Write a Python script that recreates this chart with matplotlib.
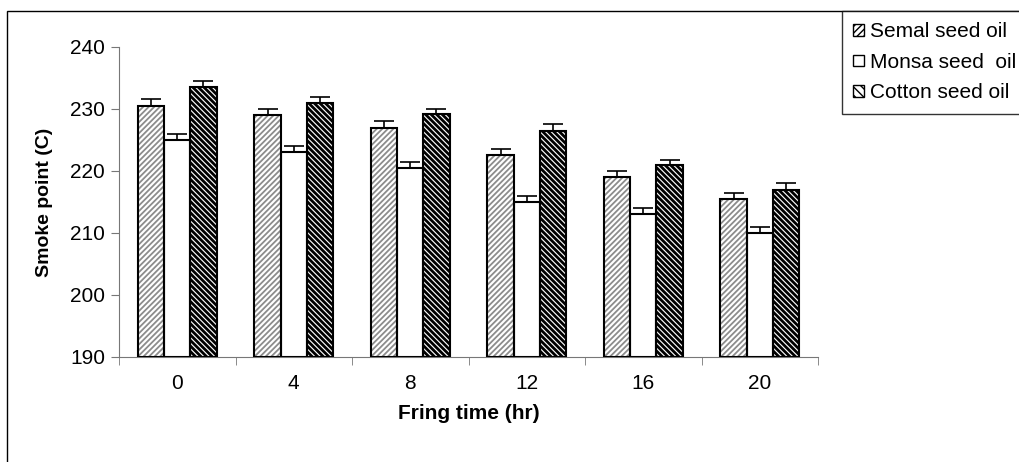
import matplotlib.pyplot as plt
import numpy as np
from matplotlib.patches import Rectangle, Patch

plt.rcParams['font.family'] = ['Liberation Sans', 'DejaVu Sans']

# data
times = ['0', '4', '8', '12', '16', '20']
semal = [230.5, 229.0, 227.0, 222.5, 219.0, 215.5]
monsa = [225.0, 223.0, 220.5, 215.0, 213.0, 210.0]
cotton = [233.5, 231.0, 229.2, 226.5, 221.0, 217.0]
semal_err = [1.1, 1.0, 1.1, 1.0, 1.0, 1.0]
monsa_err = [1.0, 1.0, 1.0, 1.0, 1.0, 1.0]
cotton_err = [1.0, 0.9, 0.8, 1.1, 0.8, 1.0]

fig = plt.figure(figsize=(10.19, 4.62), dpi=100)
ax = fig.add_axes([0.1168, 0.2273, 0.686, 0.671])

x = np.arange(len(times))
w = 0.225
offs = [-w, 0, w]
series = [semal, monsa, cotton]
errs = [semal_err, monsa_err, cotton_err]
hatches = ['//////', None, '\\\\\\\\\\\\']
hcolors = ['#8c8c8c', 'black', '#000000']
hlws = [1.3, 1.0, 2.0]

for vals, e, off, h, hc, hl in zip(series, errs, offs, hatches, hcolors, hlws):
    heights = np.array(vals) - 190
    plt.rcParams['hatch.linewidth'] = hl
    if h:
        ax.bar(x + off, heights, w, bottom=190, color='white', edgecolor=hc,
               hatch=h, linewidth=0, zorder=2)
    else:
        ax.bar(x + off, heights, w, bottom=190, color='white', linewidth=0, zorder=2)
    ax.bar(x + off, heights, w, bottom=190, fill=False, edgecolor='black',
           linewidth=1.5, zorder=3)
    ax.errorbar(x + off, vals, yerr=[np.zeros(len(e)), e], fmt='none',
                ecolor='black', elinewidth=1.2, capsize=7, capthick=1.2, zorder=4)

ax.set_xlim(-0.5, len(times) - 0.5)
ax.set_ylim(190, 240)
ax.set_yticks([190, 200, 210, 220, 230, 240])
ax.set_xticks(x)
ax.set_xticklabels(times)
ax.set_xticks(np.arange(-0.5, len(times), 1), minor=True)
ax.tick_params(axis='x', which='major', length=0, pad=12, labelsize=15)
ax.tick_params(axis='x', which='minor', length=6, direction='out', color='#777777')
ax.tick_params(axis='y', length=6, direction='out', color='#777777', labelsize=15, pad=4)
for s in ['top', 'right']:
    ax.spines[s].set_visible(False)
ax.spines['left'].set_color('#777777')
ax.spines['bottom'].set_color('#777777')

ax.set_ylabel('Smoke point (C)', fontsize=14, fontweight='bold', labelpad=12)
ax.set_xlabel('Fring time (hr)', fontsize=15, fontweight='bold', labelpad=8)

# outer chart frame
fig.patches.append(Rectangle((7 / 1019, -0.1), 1.2, 1 - 11 / 462 + 0.1,
                             transform=fig.transFigure, fill=False,
                             edgecolor='black', linewidth=1))

plt.rcParams['hatch.linewidth'] = 1.0
handles = [Patch(facecolor='white', edgecolor='black', hatch='/////'),
           Patch(facecolor='white', edgecolor='black'),
           Patch(facecolor='white', edgecolor='black', hatch='\\\\\\\\')]
leg = fig.legend(handles, ['Semal seed oil', 'Monsa seed  oil', 'Cotton seed oil'],
                 loc='upper left', bbox_to_anchor=(842 / 1019, 1 - 11 / 462),
                 frameon=True, fancybox=False, fontsize=15, handlelength=0.5,
                 handleheight=0.5, handletextpad=0.3, labelspacing=0.55,
                 borderpad=0.55, borderaxespad=0)
leg.get_frame().set_edgecolor('black')
leg.get_frame().set_linewidth(1)

fig.savefig('out.png', dpi=100)
